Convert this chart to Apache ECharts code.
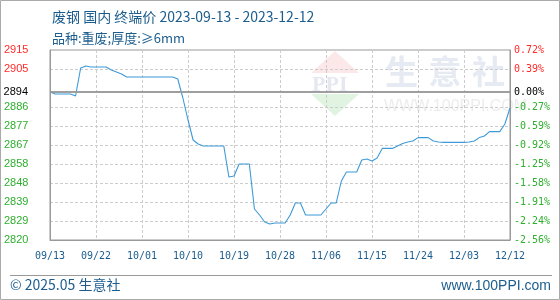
<!DOCTYPE html>
<html><head><meta charset="utf-8">
<script src="https://cdn.jsdelivr.net/npm/echarts@6/dist/echarts.min.js"></script>
<style>html,body{margin:0;padding:0;background:#fff}#c{width:560px;height:300px}</style>
</head><body><div id="c"></div>
<script>
const titleText = '废钢 国内 终端价 2023-09-13 - 2023-12-12';
const subTitleText = '品种:重废;厚度:≥6mm';
const startDate = '2023-09-13';
const dayCount = 91;
const prices = [
 2894,2893,2893,2893,2893,2892,2906,2907,2906.5,2906.5,
 2906.5,2906.5,2905,2904,2903,2901.5,2901.5,2901.5,2901.5,2901.5,
 2901.5,2901.5,2901.5,2901.5,2901.5,2900.5,2891,2880,2870,2868,
 2867,2867,2867,2867,2867,2851.5,2852,2858,2858,2858,
 2835.5,2832.5,2829,2828,2828.5,2828.5,2828.5,2832.5,2838.5,2838.5,
 2832.5,2832.5,2832.5,2832.5,2835.5,2838.5,2838.5,2849.5,2854,2854,
 2854,2860,2860.5,2859.5,2861,2865.8,2865.8,2865.8,2867,2868.2,
 2869,2869.5,2871.2,2871.2,2871.2,2869.5,2869,2868.8,2868.8,2868.8,
 2868.8,2868.8,2869,2869.5,2871.2,2872,2874.2,2874.2,2874.2,2878,
 2886
];
const baseValue = 2894;
const yMin = 2820, yMax = 2915, yStep = 9.5;
const leftTickLabels = ['2820','2829','2839','2848','2858','2867','2877','2886','','2905','2915'];
const rightTickLabels = ['-2.56%','-2.24%','-1.91%','-1.58%','-1.25%','-0.92%','-0.59%','-0.27%','','0.39%','0.72%'];
const baseLeftLabel = '2894';
const baseRightLabel = '0.00%';
const footerLeft = '© 2025.05 生意社';
const footerRight = 'www.100PPI.com';
const watermarkChars = ['生', '意', '社'];

const dates = [];
(function(){
  const d0 = new Date(startDate + 'T00:00:00Z');
  for (let i = 0; i < dayCount; i++) {
    const d = new Date(d0.getTime() + i * 86400000);
    const mm = String(d.getUTCMonth() + 1).padStart(2, '0');
    const dd = String(d.getUTCDate()).padStart(2, '0');
    dates.push(mm + '/' + dd);
  }
})();

const RED = '#ff2a2a', GREEN = '#2fae2f', BLUE = '#1c5d8e';
function tickIndex(v){ return Math.round((v - yMin) / yStep); }
function tickColor(v){ const i = tickIndex(v); return i >= 9 ? RED : GREEN; }
const splitColors = [];
for (let i = 0; i <= 10; i++) splitColors.push(i === 8 ? 'rgba(0,0,0,0)' : '#cccccc');

const wmGraphics = watermarkChars.map((ch, i) => ({
  type: 'text', x: 385 + i * 43.5, y: 55,
  style: {text: ch, fill: 'rgba(190,200,220,0.38)', fontSize: 33, fontWeight: 'bold', fontFamily: 'Noto Sans CJK SC'}, z: 0
}));

const chart = echarts.init(document.getElementById('c'), null, {renderer: 'canvas'});
chart.setOption({
  animation: false,
  backgroundColor: '#fff',
  grid: {left: 50, right: 50, top: 50, bottom: 60, show: true, borderColor: '#999', borderWidth: 1},
  title: [
    {text: titleText, left: 47, top: 5, textStyle: {fontSize: 14, fontWeight: 'normal', color: BLUE, fontFamily: 'Noto Sans CJK SC'}},
    {text: subTitleText, left: 47, top: 27, textStyle: {fontSize: 13, fontWeight: 'normal', color: BLUE, fontFamily: 'Noto Sans CJK SC'}}
  ],
  xAxis: {
    type: 'category', data: dates, boundaryGap: false,
    axisLine: {show: true, lineStyle: {color: '#999'}},
    axisTick: {show: false},
    axisLabel: {interval: 8, color: BLUE, fontSize: 10, fontFamily: 'DejaVu Sans Mono', margin: 11},
    splitLine: {show: true, interval: 8, lineStyle: {color: '#cccccc', type: [3, 2]}}
  },
  yAxis: [
    {
      type: 'value', min: yMin, max: yMax, interval: yStep, position: 'left',
      axisLine: {show: true, lineStyle: {color: '#999'}},
      axisTick: {show: false},
      axisLabel: {
        align: 'left', margin: 46, fontSize: 11, fontFamily: 'Liberation Sans',
        formatter: v => leftTickLabels[tickIndex(v)],
        color: v => tickColor(v)
      },
      splitLine: {show: true, lineStyle: {color: splitColors, type: [3, 2]}}
    },
    {
      type: 'value', min: yMin, max: yMax, interval: yStep, position: 'right',
      axisLine: {show: true, lineStyle: {color: '#999'}},
      axisTick: {show: false},
      axisLabel: {
        align: 'left', margin: 4, fontSize: 10, fontFamily: 'DejaVu Sans Mono',
        formatter: v => rightTickLabels[tickIndex(v)],
        color: v => tickColor(v)
      },
      splitLine: {show: false}
    }
  ],
  series: [{
    type: 'line', data: prices, showSymbol: false, symbol: 'none',
    lineStyle: {color: '#3d9ad8', width: 1.1},
    markLine: {
      silent: true, symbol: 'none',
      lineStyle: {color: '#999', type: 'solid', width: 1.5},
      data: [
        {yAxis: baseValue, label: {show: true, position: 'start', formatter: baseLeftLabel, color: '#000', fontSize: 11, fontFamily: 'Liberation Sans', distance: 22}},
        {yAxis: baseValue, label: {show: true, position: 'end', formatter: baseRightLabel, color: '#000', fontSize: 10, fontFamily: 'DejaVu Sans Mono', distance: 4}}
      ]
    }
  }],
  graphic: [
    {type: 'rect', shape: {x: 0.5, y: 0.5, width: 559, height: 299}, style: {fill: 'none', stroke: '#aaa', lineWidth: 1}, z: -1},
    {type: 'line', shape: {x1: 10, y1: 275.5, x2: 552, y2: 275.5}, style: {stroke: '#999', lineWidth: 1}},
    {type: 'text', left: 10, top: 278, style: {text: footerLeft, fill: BLUE, fontSize: 14, fontFamily: 'Noto Sans CJK SC'}},
    {type: 'text', right: 9, top: 279, style: {text: footerRight, fill: BLUE, fontSize: 14, fontFamily: 'Liberation Sans'}},
    {type: 'polygon', shape: {points: [[335, 51], [311, 73], [359, 73]]}, style: {fill: 'rgba(240,150,150,0.22)'}, z: 0},
    {type: 'polygon', shape: {points: [[311, 94], [359, 94], [335, 116]]}, style: {fill: 'rgba(120,200,120,0.22)'}, z: 0},
    {type: 'text', x: 312, y: 74, style: {text: 'PPI', fill: 'rgba(170,180,210,0.3)', fontSize: 22, fontWeight: 'bold', fontFamily: 'Liberation Serif'}, z: 0},
    ...wmGraphics,
    {type: 'text', x: 384, y: 99, style: {text: 'WWW.100PPI.COM', fill: 'rgba(200,200,200,0.35)', fontSize: 16, fontFamily: 'Liberation Sans'}, z: 0}
  ]
});
</script></body></html>
